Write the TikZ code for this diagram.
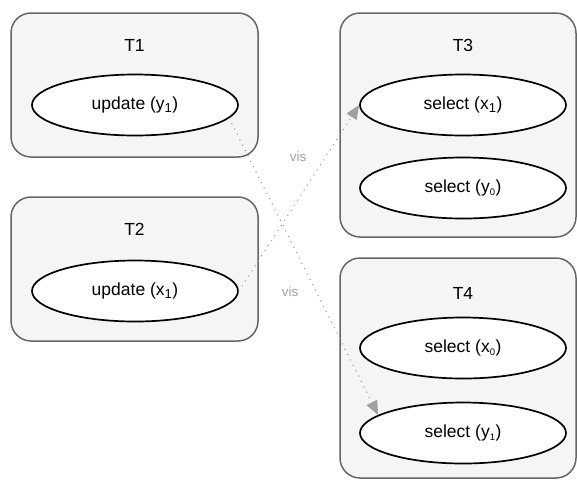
\documentclass[tikz,border=0pt]{standalone}
\usepackage{fontspec}
\setmainfont{Liberation Sans}
\usetikzlibrary{arrows.meta,shapes.geometric}
\definecolor{boxfill}{HTML}{F5F5F5}
\definecolor{boxline}{HTML}{666666}
\definecolor{visgray}{HTML}{A0A0A0}
\newcommand{\smsub}[1]{\textsubscript{\fontsize{9.5}{9}\selectfont #1}}
\newcommand{\bgsub}[1]{\textsubscript{\fontsize{13}{13}\selectfont #1}}
\begin{document}
\begin{tikzpicture}[x=1pt,y=-1pt,
  tbox/.style={draw=boxline, fill=boxfill, line width=1.5pt, rounded corners=20pt, inner sep=0pt},
  ttitle/.style={font=\fontsize{17.5}{20}\selectfont, inner sep=0pt},
  ell/.style={ellipse, draw=black, fill=white, line width=1.7pt, minimum width=206pt, minimum height=61pt, inner sep=0pt, font=\fontsize{17.5}{20}\selectfont},
  vis/.style={draw=visgray, line width=1.6pt, dash pattern=on 0.01pt off 6pt, line cap=round, -{Triangle[length=14pt,width=12pt,fill=visgray,line width=0pt]}},
  vislabel/.style={text=visgray, font=\fontsize{13.5}{15}\selectfont, inner sep=0pt}
]
\useasboundingbox (0,0) rectangle (577,480);
% boxes
\node[tbox, minimum width=247pt, minimum height=144pt] (B1) at (134.5,85) {};
\node[tbox, minimum width=247pt, minimum height=144pt] (B2) at (134.5,269) {};
\node[tbox, minimum width=236pt, minimum height=224pt] (B3) at (458,125) {};
\node[tbox, minimum width=236pt, minimum height=220pt] (B4) at (458,368) {};
% titles
\node[ttitle] (T1) at (134.5,45) {T1};
\node[ttitle] (T2) at (134.5,229) {T2};
\node[ttitle] (T3) at (463,45) {T3};
\node[ttitle] (T4) at (463,293) {T4};
% ellipses
\node[ell] (u1) at (135,105) {update (y\bgsub{1})};
\node[ell] (u2) at (135,291) {update (x\bgsub{1})};
\node[ell] (s1) at (463,105) {select (x\bgsub{1})};
\node[ell] (s2) at (463,188) {select (y\smsub{0})};
\node[ell] (s3) at (463,348) {select (x\smsub{0})};
\node[ell] (s4) at (463,433) {select (y\smsub{1})};
% connectors
\draw[vis] (u1.-8) -- (s4.168);
\draw[vis] (u2.east) -- (s1.west);
\node[vislabel] (v1) at (290,292) {vis};
\node[vislabel] (v2) at (298,157) {vis};
\end{tikzpicture}
\end{document}
